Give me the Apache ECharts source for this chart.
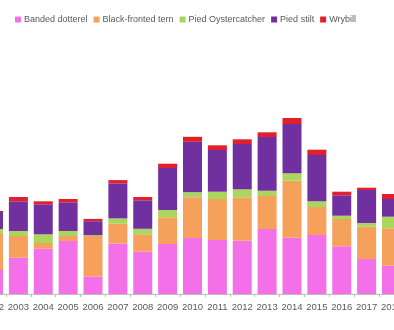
<!DOCTYPE html>
<html>
<head>
<meta charset="utf-8">
<script src="https://cdn.jsdelivr.net/npm/echarts@6/dist/echarts.min.js"></script>
<style>html,body{margin:0;padding:0;background:#fff;overflow:hidden;width:394px;height:330px;}#c{width:425px;height:330px;margin-left:-20px;}</style>
</head>
<body>
<div id="c"></div>
<script>
const years = ['2002','2003','2004','2005','2006','2007','2008','2009','2010','2011','2012','2013','2014','2015','2016','2017','2018'];
const seriesNames = ['Banded dotterel','Black-fronted tern','Pied Oystercatcher','Pied stilt','Wrybill'];
const bandedDotterel    = [240,363,453,530,175,505,423,500,560,540,533,650,563,590,477,350,283];
const blackFrontedTern  = [360,217, 57, 50,405,198,174,267,407,410,434,330,570,280,273,323,374];
const piedOystercatcher = [ 50, 50, 87, 50,  8, 53, 55, 73, 50, 73, 80, 53, 74, 57, 33, 37,116];
const piedStilt         = [170,297,300,287,140,350,285,420,505,417,453,537,493,463,204,330,177];
const wrybill           = [ 10, 43, 30, 33, 23, 33, 33, 43, 50, 47, 47, 47, 60, 53, 36, 23, 50];
const colors = ['#F470E8','#F5A05B','#A9D65C','#7030A0','#E2202C'];
const dataSets = [bandedDotterel, blackFrontedTern, piedOystercatcher, piedStilt, wrybill];

const chart = echarts.init(document.getElementById('c'), null, {renderer:'canvas'});
chart.setOption({
  animation:false,
  color: colors,
  legend: {
    left: 30, top: 10,
    itemWidth: 6, itemHeight: 6, itemGap: 6,
    icon: 'rect',
    textStyle: {fontFamily:'Liberation Sans', fontSize: 9, color:'#595959', padding:[0,0,0,-2]},
    data: seriesNames
  },
  grid: {left: 0, right: 0, top: 30, bottom: 36, containLabel:false},
  xAxis: {
    type:'category', data: years, boundaryGap:true,
    axisLine:{lineStyle:{color:'#BFBFBF', width:1}},
    axisTick:{show:true, length:3, lineStyle:{color:'#BFBFBF'}},
    axisLabel:{fontFamily:'Liberation Sans', fontSize:9.5, color:'#595959', margin:8, interval:0}
  },
  yAxis: {type:'value', min:0, max:2640, show:false, splitLine:{show:false}},
  series: seriesNames.map((n,i)=>({
    name:n, type:'bar', stack:'total', barWidth:19,
    itemStyle:{color:colors[i]},
    data: dataSets[i]
  }))
});
</script>
</body>
</html>
